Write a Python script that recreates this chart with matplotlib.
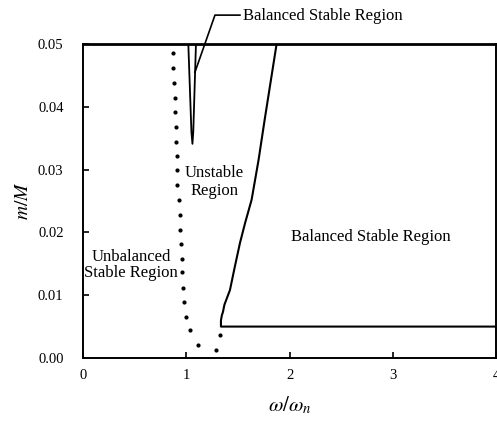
import numpy as np
import matplotlib
matplotlib.use('Agg')
import matplotlib.pyplot as plt

plt.rcParams['font.family'] = ['Liberation Serif', 'DejaVu Serif']
plt.rcParams['mathtext.fontset'] = 'stix'

# unbalanced / unstable boundary (dotted)
dotX = [0.874, 0.874, 0.881, 0.888, 0.894, 0.897, 0.903, 0.907, 0.910, 0.915,
        0.925, 0.935, 0.940, 0.950, 0.958, 0.962, 0.970, 0.980, 0.994, 1.036,
        1.110, 1.288, 1.326]
dotY = [0.0486, 0.0462, 0.0438, 0.0414, 0.0392, 0.0368, 0.0344, 0.0322, 0.0299, 0.0275,
        0.0252, 0.0228, 0.0204, 0.0182, 0.0158, 0.0137, 0.0111, 0.0089, 0.0065, 0.0045,
        0.0021, 0.0013, 0.0037]

# unstable / balanced stable boundary (solid)
solX = [1.875, 1.76, 1.70, 1.633, 1.57, 1.52, 1.47, 1.423, 1.37, 1.355, 1.345, 1.336, 1.336, 4.0]
solY = [0.050, 0.0380, 0.0315, 0.0252, 0.0215, 0.0183, 0.0145, 0.0108, 0.0085, 0.0073, 0.0068, 0.0060, 0.0050, 0.0050]

# narrow balanced stable notch
notchX = [1.02, 1.05, 1.060, 1.068, 1.094]
notchY = [0.050, 0.036, 0.0341, 0.036, 0.050]

fig = plt.figure(figsize=(4.97, 4.28), dpi=100)
ax = fig.add_axes([0.167, 0.1636, 0.831, 0.7336])

ax.plot(dotX, dotY, linestyle='none', marker='o', markersize=2.0, color='black')
ax.plot(solX, solY, color='black', lw=1.5)
ax.plot(notchX, notchY, color='black', lw=1.3)

ax.set_xlim(0, 4)
ax.set_ylim(0, 0.05)
ax.set_xticks([0, 1, 2, 3, 4])
ax.set_yticks([0, 0.01, 0.02, 0.03, 0.04, 0.05])
ax.set_yticklabels(['0.00', '0.01', '0.02', '0.03', '0.04', '0.05'])
ax.tick_params(direction='in', length=4, width=1.2, labelsize=10.5)
ax.tick_params(axis='x', pad=8)
ax.tick_params(axis='y', pad=14)

for s in ['left', 'bottom', 'right']:
    ax.spines[s].set_linewidth(1.4)
ax.spines['top'].set_linewidth(2.0)

ax.set_xlabel(r'$\omega/\omega_n$', fontsize=15, labelpad=9)
ax.set_ylabel(r'$m/M$', fontsize=14, labelpad=4)

ax.text(1.27, 0.028, 'Unstable\nRegion', ha='center', va='center', fontsize=12, linespacing=1.15)
ax.text(0.465, 0.0148, 'Unbalanced\nStable Region', ha='center', va='center', fontsize=12, linespacing=1.0)
ax.text(2.79, 0.0193, 'Balanced Stable Region', ha='center', va='center', fontsize=12)

ax.plot([1.084, 1.278, 1.52], [0.0455, 0.0546, 0.0546], color='black', lw=1.2, clip_on=False)
ax.text(1.55, 0.0544, 'Balanced Stable Region', ha='left', va='center', fontsize=12)

fig.savefig('out.png', dpi=100)
